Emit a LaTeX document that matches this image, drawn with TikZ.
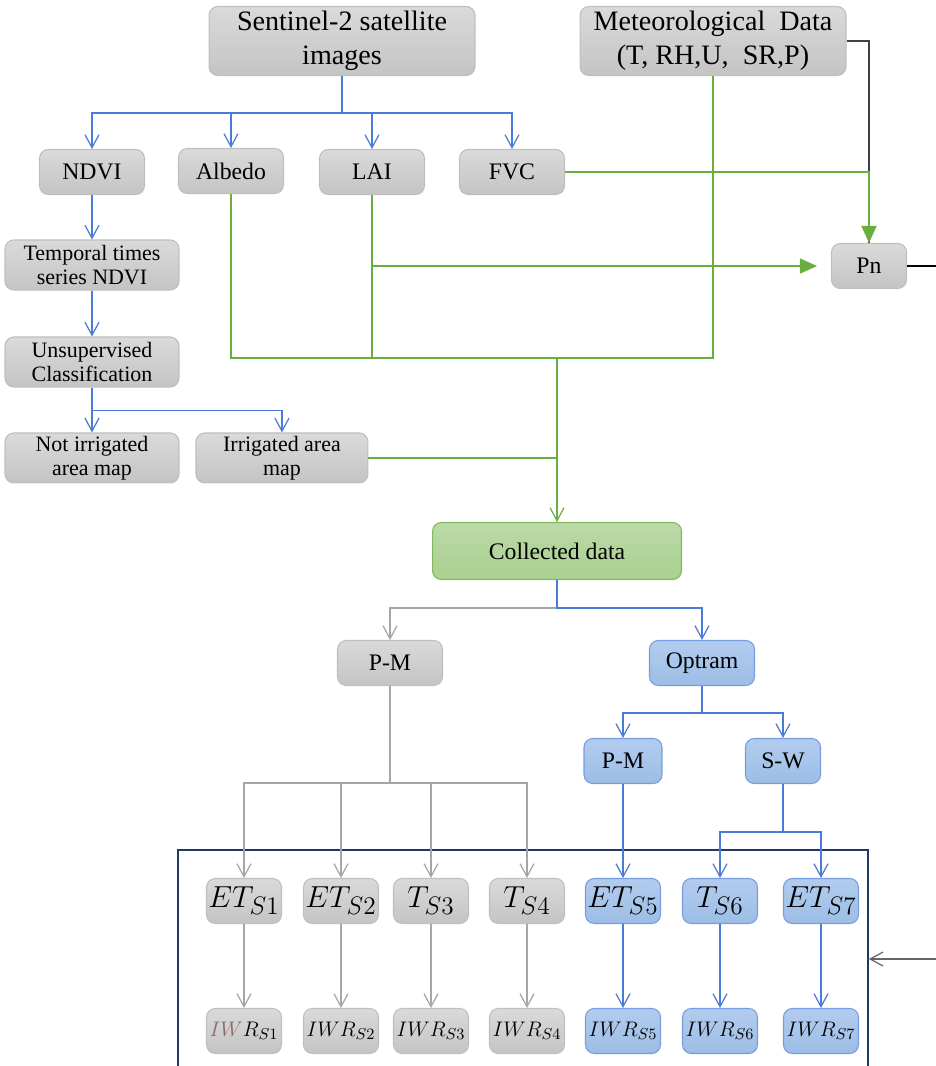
\documentclass[tikz,border=0pt]{standalone}
\usepackage{fontspec}
\setmainfont{Liberation Serif}
\usepackage{tikz}
\usetikzlibrary{positioning, arrows.meta}

\definecolor{linegray}{HTML}{A6A6A6}
\definecolor{lineblue}{HTML}{4A7BD6}
\definecolor{linegreen}{HTML}{6AAE40}
\definecolor{linedark}{HTML}{404040}
\definecolor{framecol}{HTML}{1F3864}
\definecolor{iwbrown}{HTML}{8C6A6A}

\begin{document}
\begin{tikzpicture}[x=0.02cm, y=-0.02cm, node distance=2.6cm, on grid,
   box/.style={rounded corners=5pt, align=center, inner sep=1pt, line width=0.6pt,
      minimum width=2.1cm, minimum height=0.9cm, font=\fontsize{13.5}{15}\selectfont},
   greybox/.style={box, draw=gray!50, top color={rgb,255:red,218;green,218;blue,218}, bottom color={rgb,255:red,196;green,196;blue,196}},
   bluebox/.style={box, draw=lineblue!75, top color={rgb,255:red,178;green,204;blue,238}, bottom color={rgb,255:red,157;green,189;blue,230}},
   greenbox/.style={box, draw=linegreen!85, top color={rgb,255:red,187;green,218;blue,168}, bottom color={rgb,255:red,169;green,208;blue,142}},
   tall/.style={minimum width=3.48cm, minimum height=1.0cm, font=\fontsize{12.5}{13.5}\selectfont},
   big/.style={minimum width=5.32cm, minimum height=1.38cm, font=\fontsize{16}{19.5}\selectfont},
   etbox/.style={minimum width=1.5cm, inner sep=0pt, font=\fontsize{19}{21}\selectfont},
   iwrbox/.style={minimum width=1.5cm, inner sep=0pt, font=\fontsize{12.5}{14}\selectfont},
   link/.style={-{Straight Barb[length=2.6mm, width=2.8mm]}, line width=0.7pt},
   blink/.style={link, draw=lineblue},
   glink/.style={link, draw=linegray},
   gnlink/.style={link, draw=linegreen},
   gnline/.style={draw=linegreen, line width=0.7pt},
   gnfill/.style={draw=linegreen, line width=0.8pt, -{Triangle[length=3.4mm, width=3mm]}, linegreen}]

   \useasboundingbox (0,0) rectangle (936,1066);

   % inputs
   \node[greybox, big] (sen) at (342,41) {Sentinel-2 satellite\\images};
   \node[greybox, big] (met) at (713,41) {Meteorological\ \ Data\\(T, RH,U,\ \ SR,P)};
   \node[greybox] (ndvi) at (92,172) {NDVI};
   \node[greybox] (alb) at (231,171) {Albedo};
   \node[greybox] (lai) at (372,172) {LAI};
   \node[greybox] (fvc) at (512,172) {FVC};
   \node[greybox, minimum width=1.5cm] (pn) at (869,266) {Pn};

   % classification
   \node[greybox, tall] (tmp) at (92,265) {Temporal times\\series NDVI};
   \node[greybox, tall] (uns) [below=1.94cm of tmp] {Unsupervised\\Classification};
   \node[greybox, tall] (nirr) [below=1.92cm of uns] {Not irrigated\\area map};
   \node[greybox, tall, minimum width=3.44cm] (irr) [right=3.8cm of nirr] {Irrigated area\\map};

   % models
   \node[greenbox, minimum width=4.98cm, minimum height=1.14cm] (col) at (557,551) {Collected data};
   \node[greybox] (pm) at (390,663) {P-M};
   \node[bluebox] (opt) at (702,663) {Optram};
   \node[bluebox, minimum width=1.56cm] (pmb) at (623,761) {P-M};
   \node[bluebox, minimum width=1.5cm] (sw) at (783,761) {S-W};

   % scenarios
   \foreach \n/\x/\sty/\et/\iwr in {
      1/244/greybox/{$ET_{S1}$}/{$\textcolor{iwbrown}{IW}R_{S1}$},
      2/341/greybox/{$ET_{S2}$}/{$IWR_{S2}$},
      3/431/greybox/{$T_{S3}$}/{$IWR_{S3}$},
      4/527/greybox/{$T_{S4}$}/{$IWR_{S4}$},
      5/623/bluebox/{$ET_{S5}$}/{$IWR_{S5}$},
      6/720/bluebox/{$T_{S6}$}/{$IWR_{S6}$},
      7/821/bluebox/{$ET_{S7}$}/{$IWR_{S7}$}}{
      \node[\sty, etbox] (et\n) at (\x,901) {\et};
      \node[\sty, iwrbox] (iwr\n) [below=of et\n] {\iwr};
   }

   \node[draw=framecol, line width=1pt, minimum width=13.8cm, minimum height=4.36cm,
      inner sep=0pt] (frame) at (523,959) {};
   \coordinate (fin) at (936,959);
   \coordinate (pnout) at (936,266);
   \coordinate (merge) at (557,358);

   % connectors
   \foreach \t in {ndvi, alb, lai, fvc}
      \draw[blink] (sen.south) -- ++(0,37) -| (\t.north);
   \draw[blink] (ndvi) -- (tmp);
   \draw[blink] (tmp) -- (uns);
   \draw[blink] (uns) -- (nirr);
   \draw[blink] (uns.south) -- ++(0,23) -| (irr.north);

   \draw[linedark, line width=0.7pt] (met.east) -| (pn.north);
   \draw[gnfill] (fvc.east) -| (pn.north);
   \draw[gnfill, shorten >=0.28cm] (lai.south |- pn.west) -- (pn.west);
   \draw[black, line width=0.7pt] (pn.east) -- (pnout);

   \draw[gnline] (alb.south) |- (merge);
   \draw[gnline] (lai.south) |- (merge);
   \draw[gnline] (met.south) |- (merge);
   \draw[gnline] (irr.east) -- (irr.east -| merge);
   \draw[gnlink] (merge) -- (col.north);

   \draw[glink] (col.south) -- ++(0,28) -| (pm.north);
   \draw[blink] (col.south) -- ++(0,28) -| (opt.north);
   \draw[blink] (opt.south) -- ++(0,27) -| (pmb.north);
   \draw[blink] (opt.south) -- ++(0,27) -| (sw.north);

   \foreach \i in {1,...,4}
      \draw[glink] (pm.south) -- ++(0,97) -| (et\i.north);
   \draw[blink] (pmb) -- (et5);
   \draw[blink] (sw.south) -- ++(0,48) -| (et6.north);
   \draw[blink] (sw.south) -- ++(0,48) -| (et7.north);
   \foreach \i in {1,...,4}
      \draw[glink] (et\i) -- (iwr\i);
   \foreach \i in {5,6,7}
      \draw[blink] (et\i) -- (iwr\i);

   \draw[link, draw=gray!80!black] (fin) -- (frame.east);
\end{tikzpicture}
\end{document}
